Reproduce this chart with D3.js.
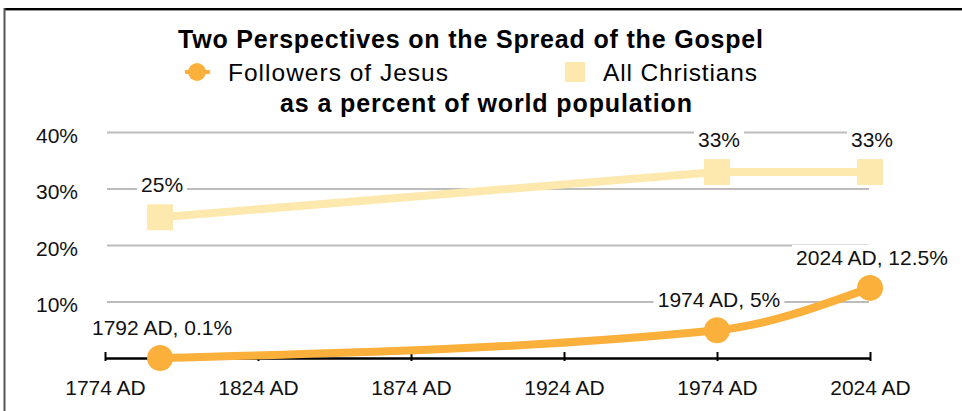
<!DOCTYPE html>
<html>
<head>
<meta charset="utf-8">
<script src="https://cdn.jsdelivr.net/npm/d3@7"></script>
<style>
  html, body { margin: 0; padding: 0; background: #fff; }
  svg { display: block; font-family: "Liberation Sans", Arial, Helvetica, sans-serif; }
</style>
</head>
<body>
<svg id="chart" width="962" height="411"></svg>
<script>
// ---- data ----
const years = [1792, 1974, 2024];
const followers = [0.1, 5, 12.5];
const christians = [25, 33, 33];
const followerLabels = ["1792 AD, 0.1%", "1974 AD, 5%", "2024 AD, 12.5%"];
const christianLabels = ["25%", "33%", "33%"];
const xTicks = [1774, 1824, 1874, 1924, 1974, 2024];
const yTicks = [10, 20, 30, 40];
const seriesNames = ["Followers of Jesus", "All Christians"];
const titleText = "Two Perspectives on the Spread of the Gospel";
const subtitleText = "as a percent of world population";

const orange = "#fbb03b";
const cream = "#fde9ae";

const svg = d3.select("#chart");

// frame
svg.append("line").attr("x1", 4).attr("x2", 962).attr("y1", 9).attr("y2", 9)
  .attr("stroke", "#000").attr("stroke-width", 2);
svg.append("line").attr("x1", 4).attr("x2", 962).attr("y1", 10.5).attr("y2", 10.5)
  .attr("stroke", "#999").attr("stroke-width", 1);
svg.append("line").attr("x1", 4.5).attr("x2", 4.5).attr("y1", 8).attr("y2", 411)
  .attr("stroke", "#555").attr("stroke-width", 2);

const x = d3.scaleLinear().domain([1774, 2024]).range([105, 870]);
const y = d3.scaleLinear().domain([0, 40]).range([358.5, 132.5]);

// gridlines
svg.append("g").selectAll("line").data(yTicks).join("line")
  .attr("x1", 107).attr("x2", 869)
  .attr("y1", d => y(d)).attr("y2", d => y(d))
  .attr("stroke", "#bcbcbc").attr("stroke-width", 2);

// y labels
svg.append("g").selectAll("text").data(yTicks).join("text")
  .attr("x", 78).attr("y", d => y(d) + 10)
  .attr("text-anchor", "end").attr("font-size", 21).attr("fill", "#111")
  .text(d => d + "%");

// x axis
const xAxis = d3.axisBottom(x).tickValues(xTicks).tickFormat(d => d + " AD")
  .tickSize(3).tickPadding(0).tickSizeOuter(0);
const gx = svg.append("g").attr("transform", "translate(0,358)").call(xAxis);
gx.select(".domain").attr("stroke", "#000").attr("stroke-width", 2.5);
gx.selectAll(".tick line").attr("y1", -6).attr("y2", 3).attr("stroke", "#000").attr("stroke-width", 2);
gx.selectAll(".tick text").attr("y", 37).attr("dy", 0).attr("font-size", 21)
  .attr("font-family", "Liberation Sans, Arial, sans-serif").attr("fill", "#111");

// series data
const fData = years.map((yr, i) => ({ yr, v: followers[i], label: followerLabels[i] }));
const cData = years.map((yr, i) => ({ yr, v: christians[i], label: christianLabels[i] }));

// All Christians line
svg.append("path").datum(cData)
  .attr("fill", "none").attr("stroke", cream).attr("stroke-width", 8)
  .attr("d", d3.line().x(d => x(d.yr)).y(d => y(d.v)));
svg.append("g").selectAll("rect").data(cData).join("rect")
  .attr("x", d => x(d.yr) - 13).attr("y", d => y(d.v) - 13)
  .attr("width", 26).attr("height", 26).attr("fill", cream);

// Followers line
svg.append("path").datum(fData)
  .attr("fill", "none").attr("stroke", orange).attr("stroke-width", 8)
  .attr("d", d3.line().curve(d3.curveMonotoneX).x(d => x(d.yr)).y(d => y(d.v)));
svg.append("g").selectAll("circle").data(fData).join("circle")
  .attr("cx", d => x(d.yr)).attr("cy", d => y(d.v)).attr("r", 13).attr("fill", orange);

// labels with white background
function addLabels(data, offset) {
  const g = svg.append("g");
  data.forEach(d => {
    const lg = g.append("g");
    const t = lg.append("text")
      .attr("x", x(d.yr) + 2).attr("y", y(d.v) - offset)
      .attr("text-anchor", "middle").attr("font-size", 21).attr("fill", "#111")
      .text(d.label);
    const bb = t.node().getBBox();
    lg.insert("rect", "text")
      .attr("x", bb.x - 4).attr("y", bb.y - 1)
      .attr("width", bb.width + 8).attr("height", bb.height + 2)
      .attr("fill", "#fff");
  });
}
addLabels(cData, 25);
addLabels(fData, 23);

// title
svg.append("text").attr("x", 470.5).attr("y", 48).attr("text-anchor", "middle")
  .attr("font-size", 25).attr("font-weight", "bold").attr("fill", "#000")
  .attr("textLength", 585).attr("lengthAdjust", "spacing")
  .text(titleText);
svg.append("text").attr("x", 486).attr("y", 112).attr("text-anchor", "middle")
  .attr("font-size", 25).attr("font-weight", "bold").attr("fill", "#000")
  .attr("textLength", 412).attr("lengthAdjust", "spacing")
  .text(subtitleText);

// legend
const lg = svg.append("g");
lg.append("line").attr("x1", 185).attr("x2", 210).attr("y1", 72).attr("y2", 72)
  .attr("stroke", orange).attr("stroke-width", 4);
lg.append("circle").attr("cx", 197).attr("cy", 72).attr("r", 9).attr("fill", orange);
lg.append("text").attr("x", 228).attr("y", 81).attr("font-size", 24.5).attr("fill", "#000")
  .attr("textLength", 220).attr("lengthAdjust", "spacing")
  .text(seriesNames[0]);
lg.append("rect").attr("x", 565).attr("y", 62).attr("width", 20).attr("height", 20).attr("fill", cream);
lg.append("text").attr("x", 603).attr("y", 81).attr("font-size", 24.5).attr("fill", "#000")
  .attr("textLength", 154).attr("lengthAdjust", "spacing")
  .text(seriesNames[1]);
</script>
</body>
</html>
